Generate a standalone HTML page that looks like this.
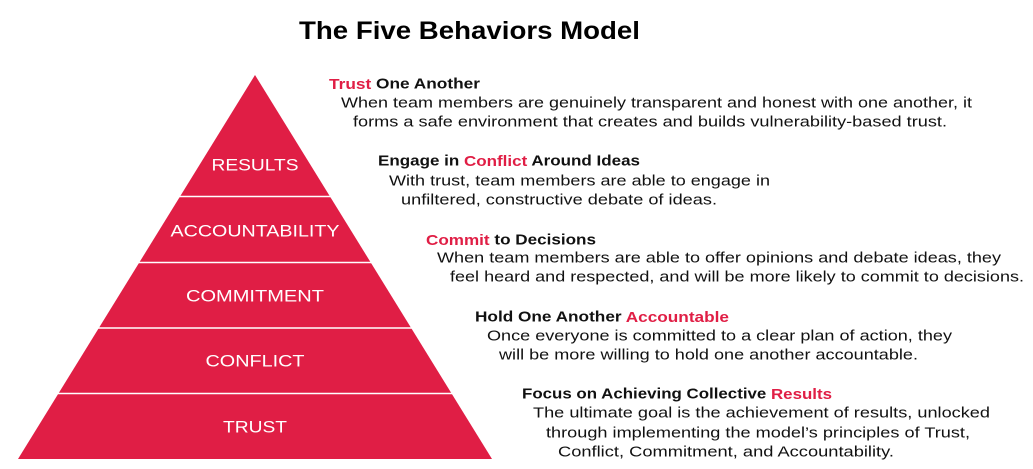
<!DOCTYPE html>
<html><head><meta charset="utf-8"><style>
html,body{margin:0;padding:0;background:#fff;}
svg{display:block}
text{font-family:"Liberation Sans",sans-serif;}
.b{font-size:15px;fill:#111;}
.h{font-size:15px;font-weight:bold;fill:#111;}
.r{fill:#e01e45;}
.p{font-size:17px;fill:#fff;}
</style></head><body>
<svg width="1033" height="469" viewBox="0 0 1033 469" xmlns="http://www.w3.org/2000/svg">
<text x="299" y="39" font-size="25" font-weight="bold" fill="#000" textLength="341" lengthAdjust="spacingAndGlyphs">The Five Behaviors Model</text>
<polygon points="255,75 492,459 18,459" fill="#e01e45"/>
<g stroke="#fff" stroke-width="1.5">
<line x1="170" y1="196.5" x2="340" y2="196.5"/>
<line x1="130" y1="262.5" x2="380" y2="262.5"/>
<line x1="90" y1="328" x2="420" y2="328"/>
<line x1="50" y1="393.5" x2="460" y2="393.5"/>
</g>
<g class="p" text-anchor="middle" dominant-baseline="central">
<text x="255" y="165" textLength="87" lengthAdjust="spacingAndGlyphs">RESULTS</text>
<text x="255" y="231" textLength="169" lengthAdjust="spacingAndGlyphs">ACCOUNTABILITY</text>
<text x="255" y="296" textLength="138" lengthAdjust="spacingAndGlyphs">COMMITMENT</text>
<text x="255" y="361" textLength="99" lengthAdjust="spacingAndGlyphs">CONFLICT</text>
<text x="255" y="427" textLength="64" lengthAdjust="spacingAndGlyphs">TRUST</text>
</g>
<g dominant-baseline="central">
<text class="h" x="329" y="84" textLength="151" lengthAdjust="spacingAndGlyphs"><tspan class="r">Trust</tspan> One Another</text>
<text class="b" x="341" y="103" textLength="631" lengthAdjust="spacingAndGlyphs">When team members are genuinely transparent and honest with one another, it</text>
<text class="b" x="353" y="122" textLength="594" lengthAdjust="spacingAndGlyphs">forms a safe environment that creates and builds vulnerability-based trust.</text>

<text class="h" x="378" y="161" textLength="262" lengthAdjust="spacingAndGlyphs">Engage in <tspan class="r">Conflict</tspan> Around Ideas</text>
<text class="b" x="389" y="181" textLength="381" lengthAdjust="spacingAndGlyphs">With trust, team members are able to engage in</text>
<text class="b" x="401" y="200" textLength="316" lengthAdjust="spacingAndGlyphs">unfiltered, constructive debate of ideas.</text>

<text class="h" x="426" y="240" textLength="170" lengthAdjust="spacingAndGlyphs"><tspan class="r">Commit</tspan> to Decisions</text>
<text class="b" x="437" y="258" textLength="564" lengthAdjust="spacingAndGlyphs">When team members are able to offer opinions and debate ideas, they</text>
<text class="b" x="450" y="277" textLength="574" lengthAdjust="spacingAndGlyphs">feel heard and respected, and will be more likely to commit to decisions.</text>

<text class="h" x="475" y="317" textLength="254" lengthAdjust="spacingAndGlyphs">Hold One Another <tspan class="r">Accountable</tspan></text>
<text class="b" x="487" y="336" textLength="465" lengthAdjust="spacingAndGlyphs">Once everyone is committed to a clear plan of action, they</text>
<text class="b" x="499" y="355" textLength="419" lengthAdjust="spacingAndGlyphs">will be more willing to hold one another accountable.</text>

<text class="h" x="522" y="394" textLength="310" lengthAdjust="spacingAndGlyphs">Focus on Achieving Collective <tspan class="r">Results</tspan></text>
<text class="b" x="533" y="413" textLength="457" lengthAdjust="spacingAndGlyphs">The ultimate goal is the achievement of results, unlocked</text>
<text class="b" x="546" y="433" textLength="424" lengthAdjust="spacingAndGlyphs">through implementing the model’s principles of Trust,</text>
<text class="b" x="558" y="452" textLength="336" lengthAdjust="spacingAndGlyphs">Conflict, Commitment, and Accountability.</text>
</g>
</svg>
</body></html>
